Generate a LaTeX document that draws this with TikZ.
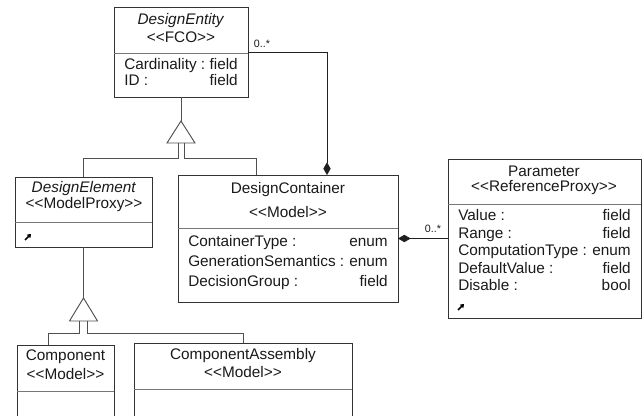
\documentclass[tikz,border=0pt]{standalone}
\usepackage{fontspec}
\setmainfont{Liberation Sans}
\usetikzlibrary{arrows.meta,fit}

\definecolor{boxline}{HTML}{333333}
\definecolor{divline}{HTML}{777777}
\definecolor{genline}{HTML}{505050}
\definecolor{assocline}{HTML}{202020}
\definecolor{ink}{HTML}{1A1A1A}

\begin{document}
\begin{tikzpicture}[x=0.75pt,y=-0.75pt,
  classbox/.style={draw=boxline, line width=0.7pt, fill=white, rectangle, inner sep=0pt, outer sep=0pt},
  divider/.style={draw=divline, line width=0.7pt},
  umltext/.style={text=ink, inner sep=0pt, font=\fontsize{11.5}{13}\selectfont},
  classname/.style={umltext, anchor=center},
  attrname/.style={umltext, anchor=base west},
  attrtype/.style={umltext, anchor=base east},
  multiplicity/.style={text=ink, inner sep=0pt, font=\fontsize{8}{9}\selectfont},
  generalization/.style={draw=genline, line width=0.7pt},
  triangle/.style={draw=genline, line width=0.7pt, fill=white},
  composition/.style={draw=assocline, line width=0.6pt, -{Diamond[length=9.5pt,width=5.5pt]}},
  composedby/.style={draw=assocline, line width=0.6pt, {Diamond[length=9.5pt,width=5.5pt]}-},
  refmark/.style={draw=black, line width=1.3pt, -{Triangle[length=2.6pt,width=3.6pt]}},
]
\clip (0,0) rectangle (644,416);
\fill[white] (0,0) rectangle (644,416);

% ---- class boxes (corner coordinates, then a fitted rectangle)
\coordinate (de-nw) at (114,7);   \coordinate (de-se) at (248,97);
\coordinate (del-nw) at (15,177); \coordinate (del-se) at (152,247);
\coordinate (dc-nw) at (178,175); \coordinate (dc-se) at (398,302);
\coordinate (p-nw) at (448,159);  \coordinate (p-se) at (641,318);
\coordinate (co-nw) at (17,345);  \coordinate (co-se) at (114,422);
\coordinate (ca-nw) at (134,343); \coordinate (ca-se) at (352,422);

\node[classbox, fit=(de-nw)(de-se)] (de) {};
\node[classbox, fit=(del-nw)(del-se)] (del) {};
\node[classbox, fit=(dc-nw)(dc-se)] (dc) {};
\node[classbox, fit=(p-nw)(p-se)] (p) {};
\node[classbox, fit=(co-nw)(co-se)] (co) {};
\node[classbox, fit=(ca-nw)(ca-se)] (ca) {};

% ---- compartment dividers
\draw[divider] (114,53) -- (248,53);
\draw[divider] (15,222) -- (152,222);
\draw[divider] (178,228) -- (398,228);
\draw[divider] (448,204) -- (641,204);
\draw[divider] (17,391) -- (114,391);
\draw[divider] (134,389) -- (352,389);

% ---- DesignEntity
\node[classname] (de-title) at (181,21) {\textit{DesignEntity}};
\node[classname] (de-stereo) at (181,37) {<{}<FCO>{}>};
\node[attrname] (de-a1) at (124,70) {Cardinality :};
\node[attrtype] (de-t1) at (238,70) {field};
\node[attrname] (de-a2) at (124,86) {ID :};
\node[attrtype] (de-t2) at (238,86) {field};

% ---- DesignElement
\node[classname] (del-title) at (84,189) {\textit{DesignElement}};
\node[classname] (del-stereo) at (84,205) {<{}<ModelProxy>{}>};
\draw[refmark] (25,240) -- (31,234);

% ---- DesignContainer
\node[classname] (dc-title) at (288,190) {DesignContainer};
\node[classname] (dc-stereo) at (288,212) {<{}<Model>{}>};
\node[attrname] (dc-a1) at (188,247) {ContainerType :};
\node[attrtype] (dc-t1) at (388,247) {enum};
\node[attrname] (dc-a2) at (188,267) {GenerationSemantics :};
\node[attrtype] (dc-t2) at (388,267) {enum};
\node[attrname] (dc-a3) at (188,287) {DecisionGroup :};
\node[attrtype] (dc-t3) at (388,287) {field};

% ---- Parameter
\node[classname] (p-title) at (544,171) {Parameter};
\node[classname] (p-stereo) at (544,188) {<{}<ReferenceProxy>{}>};
\node[attrname] (p-a1) at (458,221) {Value :};
\node[attrtype] (p-t1) at (631,221) {field};
\node[attrname] (p-a2) at (458,238.5) {Range :};
\node[attrtype] (p-t2) at (631,238.5) {field};
\node[attrname] (p-a3) at (458,256) {ComputationType :};
\node[attrtype] (p-t3) at (631,256) {enum};
\node[attrname] (p-a4) at (458,273.5) {DefaultValue :};
\node[attrtype] (p-t4) at (631,273.5) {field};
\node[attrname] (p-a5) at (458,291) {Disable :};
\node[attrtype] (p-t5) at (631,291) {bool};
\draw[refmark] (458,310) -- (464,304);

% ---- Component / ComponentAssembly
\node[classname] (co-title) at (65.5,357) {Component};
\node[classname] (co-stereo) at (65.5,374) {<{}<Model>{}>};
\node[classname] (ca-title) at (243,356) {ComponentAssembly};
\node[classname] (ca-stereo) at (243,372) {<{}<Model>{}>};

% ---- generalization: DesignElement, DesignContainer -> DesignEntity
\coordinate (g1apex) at (181,121);
\coordinate (g1bl) at (167,143);
\coordinate (g1br) at (195,143);
\coordinate (g1l) at (178,143);
\coordinate (g1r) at (184,143);
\draw[generalization] (de.south) -- (g1apex);
\draw[triangle] (g1apex) -- (g1bl) -- (g1br) -- cycle;
\draw[generalization] (g1l) -- ++(0,15) -| (del.north);
\draw[generalization] (g1r) -- ++(0,15) -| ([xshift=58.5pt]dc.north west);

% ---- generalization: Component, ComponentAssembly -> DesignElement
\coordinate (g2apex) at (83.5,298);
\coordinate (g2bl) at (69.5,321);
\coordinate (g2br) at (97.5,321);
\coordinate (g2l) at (79,321);
\coordinate (g2r) at (87,321);
\draw[generalization] (del.south) -- (g2apex);
\draw[triangle] (g2apex) -- (g2bl) -- (g2br) -- cycle;
\draw[generalization] (g2l) -- ++(0,12) -| ([xshift=23.25pt]co.north west);
\draw[generalization] (g2r) -- ++(0,12) -| (ca.north);

% ---- compositions
\draw[composition] (de.east) -| ([xshift=111.75pt]dc.north west);
\node[multiplicity] (m1) at (262,44) {0..*};
\draw[composedby] (dc.east) -- (p.west);
\node[multiplicity] (m2) at (433,229) {0..*};
\end{tikzpicture}
\end{document}
